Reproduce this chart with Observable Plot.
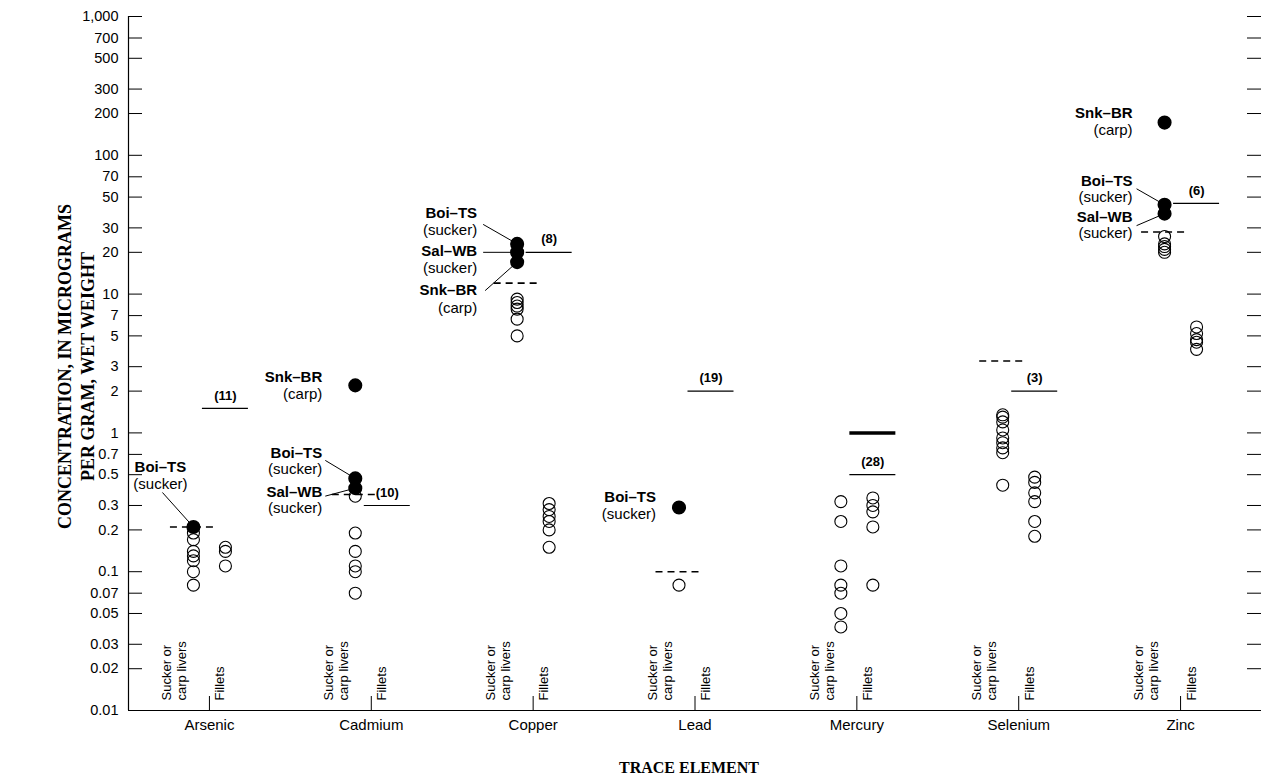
<!DOCTYPE html>
<html><head><meta charset="utf-8">
<script src="https://cdn.jsdelivr.net/npm/d3@7"></script>
<script src="https://cdn.jsdelivr.net/npm/@observablehq/plot@0.6"></script>
<style>body{margin:0;background:#fff}</style>
</head><body><div id="chart"></div>
<script>
// ---------- data ----------
const elements = ["Arsenic", "Cadmium", "Copper", "Lead", "Mercury", "Selenium", "Zinc"];
const yTicks = [0.01, 0.02, 0.03, 0.05, 0.07, 0.1, 0.2, 0.3, 0.5, 0.7, 1, 2, 3, 5, 7, 10, 20, 30, 50, 70, 100, 200, 300, 500, 700, 1000];

// open circles: sucker or carp livers
const arsenicLivers  = [0.19, 0.17, 0.14, 0.13, 0.12, 0.10, 0.08];
const cadmiumLivers  = [0.35, 0.19, 0.14, 0.11, 0.10, 0.07];
const copperLivers   = [9.2, 8.7, 8.2, 7.8, 6.6, 5.0];
const leadLivers     = [0.08];
const mercuryLivers  = [0.32, 0.23, 0.11, 0.08, 0.07, 0.05, 0.04];
const seleniumLivers = [1.35, 1.3, 1.2, 1.05, 0.92, 0.85, 0.78, 0.72, 0.42];
const zincLivers     = [26, 23, 22, 21, 20];

// open circles: fillets
const arsenicFillets  = [0.15, 0.14, 0.11];
const cadmiumFillets  = [];
const copperFillets   = [0.31, 0.28, 0.25, 0.23, 0.20, 0.15];
const leadFillets     = [];
const mercuryFillets  = [0.34, 0.30, 0.27, 0.21, 0.08];
const seleniumFillets = [0.48, 0.44, 0.37, 0.32, 0.23, 0.18];
const zincFillets     = [5.8, 5.2, 4.7, 4.5, 4.0];

// filled circles: named sites (livers)
const siteElement = ["Arsenic", "Cadmium", "Cadmium", "Cadmium", "Copper", "Copper", "Copper", "Lead", "Zinc", "Zinc", "Zinc"];
const siteValue   = [0.21, 2.2, 0.47, 0.40, 23, 20, 17, 0.29, 172, 44, 38];
const siteName    = ["Boi–TS", "Snk–BR", "Boi–TS", "Sal–WB", "Boi–TS", "Sal–WB", "Snk–BR", "Boi–TS", "Snk–BR", "Boi–TS", "Sal–WB"];
const siteFish    = ["(sucker)", "(carp)", "(sucker)", "(sucker)", "(sucker)", "(sucker)", "(carp)", "(sucker)", "(carp)", "(sucker)", "(sucker)"];

// reference lines
const liverCriteria  = [0.21, 0.36, 12, 0.10, null, 3.3, 28];   // dashed
const filletCriteria = [1.5, 0.3, 20, 2, 0.5, 2, 45];           // solid
const filletCounts   = ["(11)", "(10)", "(8)", "(19)", "(28)", "(3)", "(6)"];
const mercuryActionLevel = [1.0];                                // thick solid

const livers  = [arsenicLivers, cadmiumLivers, copperLivers, leadLivers, mercuryLivers, seleniumLivers, zincLivers];
const fillets = [arsenicFillets, cadmiumFillets, copperFillets, leadFillets, mercuryFillets, seleniumFillets, zincFillets];

// ---------- layout (styles / offsets, in pixels) ----------
const SANS = "'Liberation Sans', Arial, Helvetica, sans-serif";
const SERIF = "'Liberation Serif', 'Times New Roman', serif";
const W = 1262, H = 782, ML = 128, MR = 1, MT = 16, MB = 72;
const X = Plot.scale({x: {domain: [0, 7], range: [ML, W - MR]}});
const Y = Plot.scale({y: {type: "log", domain: [0.01, 1000], range: [H - MB, MT]}});
const pxU = 7 / (W - MR - ML);
const center = e => elements.indexOf(e) + 0.5;
const LIV = -16 * pxU, FIL = 16 * pxU, HALF = 23 * pxU;

// annotation placement: text anchor, text offset, line offsets, leader start
const annoLayout = [
  {anchor: "middle", dx: -33, dy1: -59.5, dy2: -42.5, leader: [-31, -34.5]},
  {anchor: "end", dx: -33, dy1: -8, dy2: 9, leader: null},
  {anchor: "end", dx: -33, dy1: -25, dy2: -9, leader: [-30, -18]},
  {anchor: "end", dx: -33, dy1: 4.5, dy2: 20.5, leader: [-30, 8]},
  {anchor: "end", dx: -40, dy1: -30.5, dy2: -13.5, leader: [-34, -19.5]},
  {anchor: "end", dx: -40, dy1: -1, dy2: 16, leader: [-34, 0]},
  {anchor: "end", dx: -40, dy1: 28.5, dy2: 46.5, leader: [-32, 28.5]},
  {anchor: "end", dx: -23, dy1: -10, dy2: 7, leader: null},
  {anchor: "end", dx: -32, dy1: -9, dy2: 8, leader: null},
  {anchor: "end", dx: -32, dy1: -24, dy2: -8, leader: [-28, -16]},
  {anchor: "end", dx: -32, dy1: 4, dy2: 20, leader: [-28, 12]}
];

// ---------- tables ----------
const liverRows = elements.flatMap((e, i) => livers[i].map(v => ({element: e, value: v})));
const filletRows = elements.flatMap((e, i) => fillets[i].map(v => ({element: e, value: v})));
const siteRows = siteElement.map((e, i) => ({element: e, value: siteValue[i], name: siteName[i], fish: siteFish[i]}));
const liverCritRows = elements.map((e, i) => ({element: e, value: liverCriteria[i]})).filter(d => d.value != null);
const filletCritRows = elements.map((e, i) => ({element: e, value: filletCriteria[i], count: filletCounts[i]}));
const centers = elements.map((e, i) => i + 0.5);

const annoMarks = siteRows.flatMap((d, i) => {
  const L = annoLayout[i];
  const x = center(d.element) + LIV;
  const marks = [
    Plot.text([d], {x: () => x, y: "value", text: "name", dx: L.dx, dy: L.dy1, textAnchor: L.anchor,
      fontWeight: "bold", fontSize: 15, fill: "black"}),
    Plot.text([d], {x: () => x, y: "value", text: "fish", dx: L.dx, dy: L.dy2, textAnchor: L.anchor,
      fontSize: 15, fill: "black"})
  ];
  if (L.leader) {
    const px = X.apply(x), py = Y.apply(d.value);
    marks.push(Plot.link([d], {
      x1: () => X.invert(px + L.leader[0]), y1: () => Y.invert(py + L.leader[1]),
      x2: () => x, y2: "value", stroke: "black", strokeWidth: 1
    }));
  }
  return marks;
});

const chart = Plot.plot({
  width: W, height: H,
  marginLeft: ML, marginRight: MR, marginTop: MT, marginBottom: MB,
  x: {domain: [0, 7], axis: null},
  y: {type: "log", domain: [0.01, 1000], axis: null},
  style: {fontFamily: SANS, fontSize: "14px", color: "black", background: "white", overflow: "visible"},
  marks: [
    // frame lines
    Plot.ruleY([0.01], {stroke: "black", strokeWidth: 1.2}),
    Plot.ruleX([0], {stroke: "black", strokeWidth: 1.2}),
    // inward y ticks, left and right
    Plot.tickY(yTicks, {y: d => d, insetRight: (W - MR - ML) - 14, stroke: "black", strokeWidth: 1}),
    Plot.tickY(yTicks, {y: d => d, insetLeft: (W - MR - ML) - 14, stroke: "black", strokeWidth: 1}),
    // y tick labels
    Plot.text(yTicks, {y: d => d, frameAnchor: "left", textAnchor: "end", dx: -10, text: d3.format(","),
      fontSize: 14.5, fill: "black"}),
    // x category ticks and labels
    Plot.tickX(centers, {x: d => d, insetTop: (H - MB - MT) - 14, stroke: "black", strokeWidth: 1}),
    Plot.text(centers, {x: d => d, frameAnchor: "bottom", lineAnchor: "top", dy: 9,
      text: d => elements[Math.floor(d)], fontSize: 15, fill: "black"}),
    // rotated column labels
    Plot.text(centers, {x: d => d + LIV, frameAnchor: "bottom", text: () => "Sucker or\ncarp livers",
      rotate: -90, textAnchor: "start", lineHeight: 1.15, dx: -7, dy: -10, fontSize: 13, fill: "black"}),
    Plot.text(centers, {x: d => d + FIL, frameAnchor: "bottom", text: () => "Fillets",
      rotate: -90, textAnchor: "start", dx: -1, dy: -10, fontSize: 13, fill: "black"}),
    // reference lines
    Plot.ruleY(liverCritRows, {y: "value", x1: d => center(d.element) + LIV - HALF, x2: d => center(d.element) + LIV + HALF,
      stroke: "black", strokeWidth: 1.6, strokeDasharray: "7,5"}),
    Plot.ruleY(filletCritRows, {y: "value", x1: d => center(d.element) + FIL - HALF, x2: d => center(d.element) + FIL + HALF,
      stroke: "black", strokeWidth: 1.2}),
    Plot.ruleY(mercuryActionLevel, {y: d => d, x1: () => center("Mercury") + FIL - HALF, x2: () => center("Mercury") + FIL + HALF,
      stroke: "black", strokeWidth: 3.5}),
    Plot.text(filletCritRows, {x: d => center(d.element) + FIL, y: "value", text: "count", dy: -13,
      fontWeight: "bold", fontSize: 13, fill: "black"}),
    // data points
    Plot.dot(liverRows, {x: d => center(d.element) + LIV, y: "value", r: 6, stroke: "black", strokeWidth: 1.1, fill: "none"}),
    Plot.dot(filletRows, {x: d => center(d.element) + FIL, y: "value", r: 6, stroke: "black", strokeWidth: 1.1, fill: "none"}),
    ...annoMarks,
    Plot.dot(siteRows, {x: d => center(d.element) + LIV, y: "value", r: 6.3, fill: "black", stroke: "black"}),
    // axis titles
    Plot.text(["CONCENTRATION, IN MICROGRAMS\nPER GRAM, WET WEIGHT"], {frameAnchor: "left", textAnchor: "middle",
      text: d => d, rotate: -90, dx: -53, dy: 3, lineHeight: 1.28,
      fontFamily: SERIF, fontWeight: "bold", fontSize: 18, fill: "black"}),
    Plot.text(["TRACE ELEMENT"], {frameAnchor: "bottom", text: d => d, dx: -6, dy: 62,
      fontFamily: SERIF, fontWeight: "bold", fontSize: 16, fill: "black"})
  ]
});
document.getElementById("chart").appendChild(chart);
</script></body></html>
